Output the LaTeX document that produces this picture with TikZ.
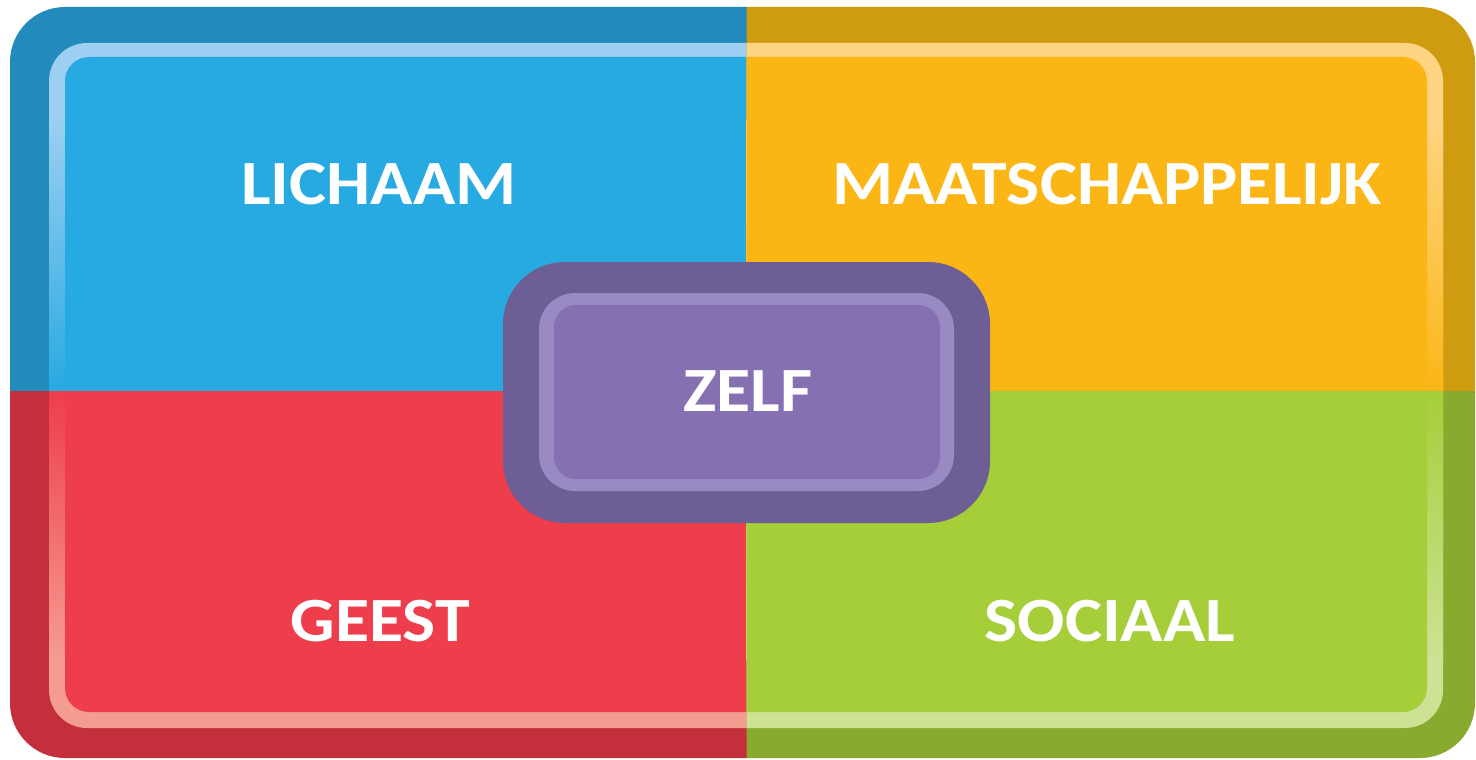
\documentclass[tikz,border=0pt]{standalone}
\usepackage{fontspec}
\usepackage{graphicx}
\setmainfont{Carlito}
\definecolor{bluemain}{HTML}{27A9E1}
\definecolor{bluedark}{HTML}{238BBC}
\definecolor{blueband}{HTML}{9CCFF1}
\definecolor{orgmain}{HTML}{FBB615}
\definecolor{orgdark}{HTML}{CF9B11}
\definecolor{orgband}{HTML}{FFD482}
\definecolor{redmain}{HTML}{EE3D4B}
\definecolor{reddark}{HTML}{C3303B}
\definecolor{redband}{HTML}{F59C90}
\definecolor{grnmain}{HTML}{A6CE39}
\definecolor{grndark}{HTML}{87AA2F}
\definecolor{grnband}{HTML}{CDE295}
\definecolor{purout}{HTML}{6E5E96}
\definecolor{purin}{HTML}{8571B1}
\definecolor{purband}{HTML}{9A8AC4}
\newcommand\lbl[1]{\scalebox{1.11}[1]{#1}}
\tikzset{
  lab/.style={text=white, font=\fontsize{63}{70}\selectfont\bfseries, anchor=base, inner sep=0pt},
}
% #1-#4 clip rect, #5 dark, #6 band, #7 main
\newcommand\quadtop[7]{%
  \begin{scope}
    \clip (#1,#2) rectangle (#3,#4);
    \fill[#5, rounded corners=55pt] (10,7) rectangle (1475,758);
    \fill[#6, rounded corners=38pt] (49,43) rectangle (1443,728);
    \shade[top color=#6, bottom color=#7] (49,120) rectangle (1443,393);
    \fill[#7, rounded corners=24pt] (65,57) rectangle (1427,712);
  \end{scope}}
\newcommand\quadbot[7]{%
  \begin{scope}
    \clip (#1,#2) rectangle (#3,#4);
    \fill[#5, rounded corners=55pt] (10,7) rectangle (1475,758);
    \fill[#6, rounded corners=38pt] (49,43) rectangle (1443,728);
    \shade[top color=#7, bottom color=#6] (49,390) rectangle (1443,660);
    \fill[#7, rounded corners=24pt] (65,57) rectangle (1427,712);
  \end{scope}}
\begin{document}
\begin{tikzpicture}[x=1pt,y=-1pt]
\useasboundingbox (0,0) rectangle (1476,760);
\quadtop{0}{0}{747.5}{392.5}{bluedark}{blueband}{bluemain}
\quadtop{746.5}{0}{1476}{392.5}{orgdark}{orgband}{orgmain}
\quadbot{0}{391.5}{747.5}{760}{reddark}{redband}{redmain}
\quadbot{746.5}{391.5}{1476}{760}{grndark}{grnband}{grnmain}
% centre box
\fill[purout, rounded corners=62pt] (503,262) rectangle (990,523);
\fill[purband, rounded corners=36pt] (539,293) rectangle (954,491);
\fill[purin, rounded corners=22pt] (554,305) rectangle (940,479);
% labels
\node[lab] (lichaam) at (379,204) {\lbl{LICHAAM}};
\node[lab] (maat) at (1107,204) {\lbl{MAATSCHAPPELIJK}};
\node[lab] (geest) at (380,641) {\lbl{GEEST}};
\node[lab] (sociaal) at (1110,641) {\lbl{SOCIAAL}};
\node[lab] (zelf) at (748,411) {\lbl{ZELF}};
\end{tikzpicture}
\end{document}
